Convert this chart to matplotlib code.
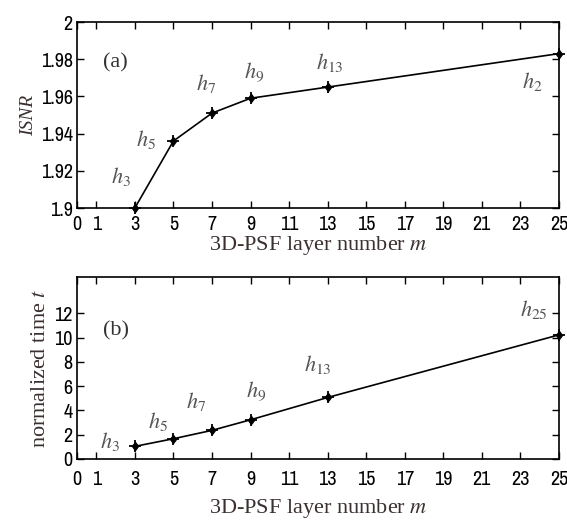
import numpy as np
import matplotlib
matplotlib.use("Agg")
import matplotlib.pyplot as plt

# data
m_layers = [3, 5, 7, 9, 13, 25]
isnr = [1.900, 1.936, 1.951, 1.959, 1.965, 1.983]
norm_time = [1.04, 1.67, 2.36, 3.23, 5.07, 10.23]

xticks = [0, 1, 3, 5, 7, 9, 11, 13, 15, 17, 19, 21, 23, 25]
yticks_a = [1.9, 1.92, 1.94, 1.96, 1.98, 2.0]
yticklabels_a = ['1.9', '1.92', '1.94', '1.96', '1.98', '2']
yticks_b = [0, 2, 4, 6, 8, 10, 12]

# point labels (text, x, y) for each panel
labels_a = [(r'$h_{3}$', 2.3, 1.917), (r'$h_{5}$', 3.6, 1.937),
            (r'$h_{7}$', 6.7, 1.967), (r'$h_{9}$', 9.2, 1.973),
            (r'$h_{13}$', 13.1, 1.978), (r'$h_{2}$', 23.6, 1.968)]
labels_b = [(r'$h_{3}$', 1.7, 1.45), (r'$h_{5}$', 4.2, 3.1),
            (r'$h_{7}$', 6.2, 4.7), (r'$h_{9}$', 9.3, 5.6),
            (r'$h_{13}$', 12.5, 7.8), (r'$h_{25}$', 23.7, 12.3)]

plt.rcParams['mathtext.fontset'] = 'stix'
tick_font = ['Archivo Narrow', 'DejaVu Sans']
serif = ['Liberation Serif', 'DejaVu Serif']

fig = plt.figure(figsize=(5.67, 5.23), dpi=100)
ax1 = fig.add_axes([77/567, 1 - 208/523, 482/567, 186/523])
ax2 = fig.add_axes([77/567, 1 - 459/523, 482/567, 182/523])


def style_axis(ax, yticks, yticklabels, xpad, labelpad):
   ax.set_xlim(0, 25)
   ax.set_xticks(xticks)
   ax.set_xticklabels([str(t) for t in xticks], family=tick_font, fontsize=14.5)
   ax.set_yticks(yticks)
   ax.set_yticklabels(yticklabels, family=tick_font, fontsize=14.5)
   ax.tick_params(direction='in', top=True, right=True, length=5, width=1.0, pad=3)
   ax.tick_params(axis='x', pad=xpad)
   for s in ax.spines.values():
      s.set_linewidth(1.2)
   ax.set_xlabel('3D-PSF layer number $\\mathit{m}$', family=serif,
                 fontsize=16, color='#3a3030', labelpad=labelpad)


def draw_series(ax, x, y):
   ax.plot(x, y, 'k-', linewidth=1.2, clip_on=False, zorder=3)
   ax.plot(x, y, 'kd', markersize=4.5, clip_on=False, zorder=4)
   ax.plot(x, y, 'k+', markersize=9, markeredgewidth=1.3, clip_on=False, zorder=4)


# (a) ISNR
draw_series(ax1, m_layers, isnr)
ax1.set_ylim(1.9, 2.0)
style_axis(ax1, yticks_a, yticklabels_a, 5, 0)
ax1.set_ylabel('ISNR', family=serif, style='italic', fontsize=14,
               color='#3a3030', labelpad=3)
ax1.text(2.0, 1.978, '(a)', family=serif, fontsize=16, color='#333333',
         ha='center', va='center')
for txt, x, y in labels_a:
   ax1.text(x, y, txt, fontsize=16, color='#555555', ha='center', va='center')

# (b) normalized time
draw_series(ax2, m_layers, norm_time)
ax2.set_ylim(0, 15)
style_axis(ax2, yticks_b, [str(t) for t in yticks_b], 8, 6)
ax2.set_ylabel('normalized time $\\mathit{t}$', family=serif, fontsize=16,
               color='#3a3030', labelpad=3)
ax2.text(2.0, 10.6, '(b)', family=serif, fontsize=16, color='#333333',
         ha='center', va='center')
for txt, x, y in labels_b:
   ax2.text(x, y, txt, fontsize=16, color='#555555', ha='center', va='center')

fig.savefig('out.png', dpi=100)
